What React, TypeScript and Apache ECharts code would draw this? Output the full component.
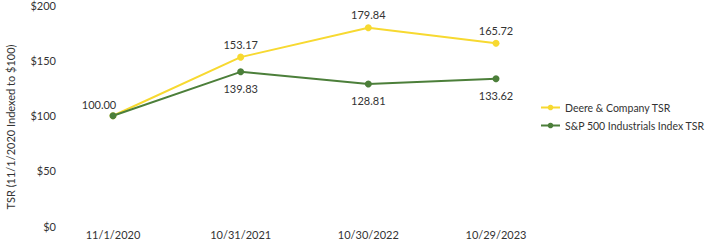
import React, { useEffect, useRef } from "react";
import * as echarts from "echarts";

const categories = ["11/1/2020", "10/31/2021", "10/30/2022", "10/29/2023"];
const deere = [100.0, 153.17, 179.84, 165.72];
const spIndustrials = [100.0, 139.83, 128.81, 133.62];
const seriesNames = ["Deere & Company TSR", "S&P 500 Industrials Index TSR"];
const yAxisTitle = "TSR (11/1/2020 Indexed to $100)";

const FONT = "Lato";
const FS = 11;
const TEXT = "#333333";

export default function App() {
  const ref = useRef<HTMLDivElement>(null);
  useEffect(() => {
    if (!ref.current) return;
    const chart = echarts.init(ref.current, null, { renderer: "svg" });
    chart.setOption({
      animation: false,
      textStyle: { fontFamily: FONT, color: TEXT },
      grid: { left: 113, right: 218, top: 5, bottom: 16 },
      xAxis: {
        type: "category",
        data: categories,
        boundaryGap: false,
        axisLine: { show: false },
        axisTick: { show: false },
        axisLabel: { color: TEXT, fontSize: FS, fontFamily: FONT, margin: 3 },
      },
      yAxis: {
        type: "value",
        min: 0,
        max: 200,
        interval: 50,
        splitLine: { show: false },
        axisLine: { show: false },
        axisTick: { show: false },
        axisLabel: {
          color: TEXT,
          fontSize: FS,
          fontFamily: FONT,
          margin: 57,
          formatter: (v: number) => "$" + v,
        },
      },
      legend: {
        orient: "vertical",
        left: 540,
        top: 102,
        itemWidth: 19,
        itemHeight: 7,
        itemGap: 7,
        padding: 0,
        textStyle: { color: TEXT, fontSize: 10.5, fontFamily: FONT },
        data: seriesNames,
      },
      graphic: [
        {
          type: "text",
          x: 10,
          y: 127,
          rotation: Math.PI / 2,
          style: {
            text: yAxisTitle,
            fill: TEXT,
            font: `${FS}px ${FONT}`,
            align: "center",
            verticalAlign: "middle",
          },
        },
      ],
      series: [
        {
          name: seriesNames[0],
          type: "line",
          data: deere.map((v, i) =>
            i === 0 ? { value: v, label: { offset: [-14, 2] } } : v
          ),
          color: "#F7D931",
          lineStyle: { width: 2 },
          symbol: "circle",
          symbolSize: 7,
          label: {
            show: true,
            position: "top",
            distance: 4,
            color: TEXT,
            fontSize: FS,
            fontFamily: FONT,
            formatter: (p: any) => Number(p.value).toFixed(2),
          },
          z: 2,
        },
        {
          name: seriesNames[1],
          type: "line",
          data: spIndustrials.map((v, i) =>
            i === 0 ? { value: v, label: { show: false } } : v
          ),
          color: "#4C7F3A",
          lineStyle: { width: 2 },
          symbol: "circle",
          symbolSize: 7,
          label: {
            show: true,
            position: "bottom",
            distance: 8,
            color: TEXT,
            fontSize: FS,
            fontFamily: FONT,
            formatter: (p: any) => Number(p.value).toFixed(2),
          },
          z: 3,
        },
      ],
    });
    return () => chart.dispose();
  }, []);
  return <div ref={ref} style={{ width: 714, height: 242, position: "absolute", left: 0, top: 0 }} />;
}
